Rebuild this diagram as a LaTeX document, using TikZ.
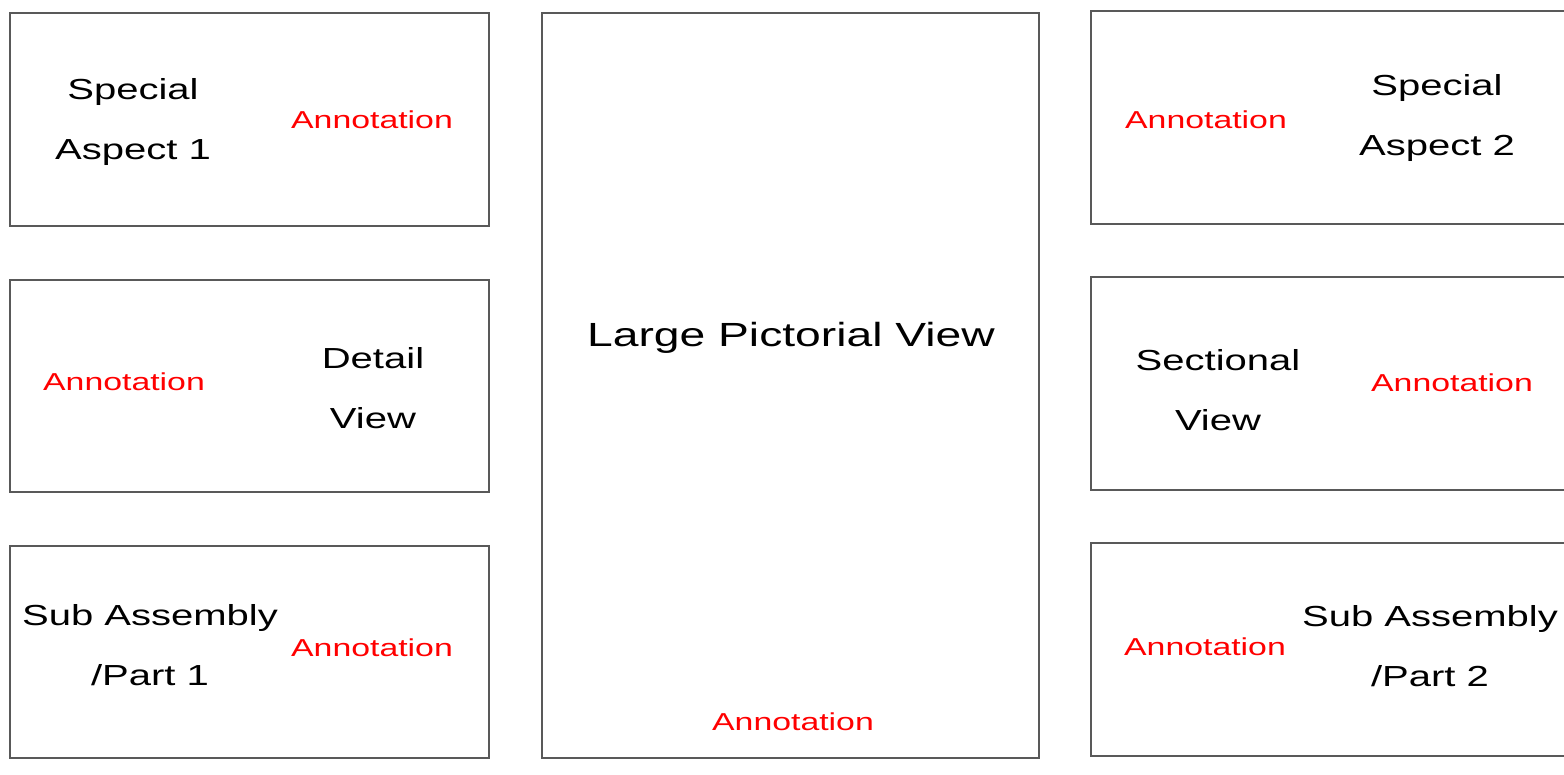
\documentclass[tikz,border=0pt]{standalone}
\usepackage{fontspec}
\setmainfont[FakeStretch=1.38]{Liberation Sans}
\begin{document}
\begin{tikzpicture}[x=1pt,y=-1pt,
  panel/.style={draw=black!65, line width=1.4pt},
  lbl/.style={font=\fontsize{29}{60}\selectfont, text=black, align=center, inner sep=0pt},
  ann/.style={font=\fontsize{24.5}{30}\selectfont, text=red, inner sep=0pt}]
\useasboundingbox (0,0) rectangle (1564,775);
% panels
\draw[panel] (10,13) rectangle (489,226) coordinate (p1);
\draw[panel] (10,280) rectangle (489,492) coordinate (p2);
\draw[panel] (10,546) rectangle (489,758) coordinate (p3);
\draw[panel] (542,13) rectangle (1039,758) coordinate (pc);
\draw[panel] (1091,11) rectangle (1570,224) coordinate (q1);
\draw[panel] (1091,277) rectangle (1570,490) coordinate (q2);
\draw[panel] (1091,543) rectangle (1570,756) coordinate (q3);
% left column
\node[lbl] (t1) at (133,122) {Special\\Aspect 1};
\node[ann] (a1) at (372,120) {Annotation};
\node[ann] (a2) at (124,382) {Annotation};
\node[lbl] (t2) at (373,388) {Detail\\View};
\node[lbl] (t3) at (150,645) {Sub Assembly\\/Part 1};
\node[ann] (a3) at (372,648) {Annotation};
% center
\node[lbl, font=\fontsize{33.5}{40}\selectfont] (tc) at (791,338) {Large Pictorial View};
\node[ann] (ac) at (793,722) {Annotation};
% right column
\node[ann] (b1) at (1206,120) {Annotation};
\node[lbl] (u1) at (1437,118) {Special\\Aspect 2};
\node[lbl] (u2) at (1218,390) {Sectional\\View};
\node[ann] (b2) at (1452,383) {Annotation};
\node[ann] (b3) at (1205,647) {Annotation};
\node[lbl] (u3) at (1430,646) {Sub Assembly\\/Part 2};
\end{tikzpicture}
\end{document}
